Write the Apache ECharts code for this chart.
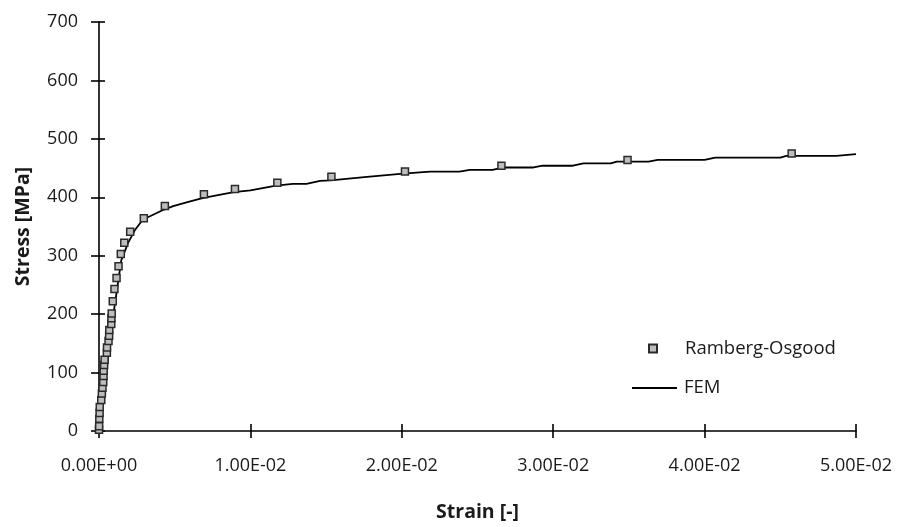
<!DOCTYPE html>
<html>
<head>
<meta charset="utf-8">
<script src="https://cdn.jsdelivr.net/npm/echarts@6/dist/echarts.min.js"></script>
<style>
  html, body { margin: 0; padding: 0; background: #fff; }
  #chart { width: 900px; height: 527px; }
</style>
</head>
<body>
<div id="chart"></div>
<script>
// Ramberg-Osgood curve: strain [-], stress [MPa]
const roStrain = [0.00000, 0.00001, 0.00002, 0.00004, 0.00005, 0.00015, 0.00019, 0.00023, 0.00028, 0.00030,
                  0.00031, 0.00034, 0.00037, 0.00052, 0.00053, 0.00063, 0.00067, 0.00068, 0.00081, 0.00082,
                  0.00084, 0.00091, 0.00102, 0.00116, 0.00129, 0.00144, 0.00167, 0.00206, 0.00296, 0.00435,
                  0.00693, 0.00898, 0.01178, 0.01535, 0.02021, 0.02658, 0.03491, 0.04575];
const roStress = [2, 8, 21, 31, 41, 53, 64, 74, 84, 94,
                  103, 113, 122, 134, 143, 154, 163, 173, 183, 193,
                  201, 222, 243, 262, 282, 303, 322, 341, 364, 385,
                  405, 414, 425, 435, 444, 454, 464, 475];

// FEM result: strain [-], stress [MPa]
const femStrain = [0, 0.0005, 0.00099, 0.00147, 0.00192, 0.0024, 0.0029, 0.0034, 0.0043, 0.0049,
                   0.0059, 0.0069, 0.0089, 0.0100, 0.0117, 0.0128, 0.0137, 0.0146, 0.0153, 0.0177,
                   0.0199, 0.0214, 0.0219, 0.0238, 0.0245, 0.0260, 0.0267, 0.0287, 0.0293, 0.0313,
                   0.0320, 0.0338, 0.0342, 0.0363, 0.0369, 0.0400, 0.0407, 0.0450, 0.0454, 0.0487,
                   0.0500];
const femStress = [0, 105, 207, 292, 322, 345, 362, 368, 379, 385,
                   392, 399, 409, 412, 420, 423, 423, 428, 429, 435,
                   440, 443, 444, 444, 447, 447, 451, 451, 454, 454,
                   458, 458, 461, 461, 464, 464, 468, 468, 471, 471,
                   474];

const xTickLabels = ['0.00E+00', '1.00E-02', '2.00E-02', '3.00E-02', '4.00E-02', '5.00E-02'];
const yTickLabels = ['0', '100', '200', '300', '400', '500', '600', '700'];

const FONT = 'Open Sans';
const TXT = '#1a1a1a';

const roData = roStrain.map((e, i) => [e, roStress[i]]);
const femData = femStrain.map((e, i) => [e, femStress[i]]);

const axisLine = { show: true, lineStyle: { color: '#000', width: 1.6 } };
const tickStyle = { color: '#000', width: 1.6 };

const chart = echarts.init(document.getElementById('chart'), null, { renderer: 'canvas' });
chart.setOption({
  animation: false,
  backgroundColor: '#fff',
  textStyle: { fontFamily: FONT },
  grid: { left: 99, right: 44, top: 22, bottom: 96, containLabel: false },
  xAxis: [{
    type: 'value', min: 0, max: 0.05, interval: 0.01, position: 'bottom',
    axisLine: axisLine,
    axisTick: { show: true, inside: false, length: 7, lineStyle: tickStyle },
    axisLabel: { margin: 26, fontSize: 18, color: TXT, fontFamily: FONT,
                 formatter: v => xTickLabels[Math.round(v / 0.01)] },
    splitLine: { show: false },
    name: 'Strain [-]', nameLocation: 'middle', nameGap: 71,
    nameTextStyle: { fontSize: 19.5, fontWeight: 'bold', color: TXT, fontFamily: FONT }
  }, {
    // inner half of the crossing tick marks
    type: 'value', min: 0, max: 0.05, interval: 0.01, position: 'bottom',
    axisLine: { show: false },
    axisTick: { show: true, inside: true, length: 7, lineStyle: tickStyle },
    axisLabel: { show: false }, splitLine: { show: false }
  }],
  yAxis: [{
    type: 'value', min: 0, max: 700, interval: 100, position: 'left',
    axisLine: axisLine,
    axisTick: { show: true, inside: false, length: 8, lineStyle: tickStyle },
    axisLabel: { margin: 21, fontSize: 18, color: TXT, fontFamily: FONT,
                 formatter: v => yTickLabels[Math.round(v / 100)] },
    splitLine: { show: false },
    name: 'Stress [MPa]', nameLocation: 'middle', nameGap: 66,
    nameTextStyle: { fontSize: 19.5, fontWeight: 'bold', color: TXT, fontFamily: FONT }
  }, {
    type: 'value', min: 0, max: 700, interval: 100, position: 'left',
    axisLine: { show: false },
    axisTick: { show: true, inside: true, length: 6, lineStyle: tickStyle },
    axisLabel: { show: false }, splitLine: { show: false }
  }],
  legend: [{
    data: ['Ramberg-Osgood'], left: 648, top: 339, orient: 'vertical', padding: 0,
    itemWidth: 8, itemHeight: 8,
    textStyle: { fontSize: 18.5, color: TXT, fontFamily: FONT, padding: [0, 0, 0, 23] }
  }, {
    data: [{ name: 'FEM', icon: 'rect' }], left: 632, top: 378.5, orient: 'vertical', padding: 0,
    itemWidth: 45, itemHeight: 2,
    itemStyle: { color: '#000' },
    textStyle: { fontSize: 18.5, color: TXT, fontFamily: FONT, padding: [0, 0, 0, 2] }
  }],
  series: [{
    name: 'FEM', type: 'line', data: femData, symbol: 'none', smooth: false,
    lineStyle: { color: '#000', width: 1.8 }, itemStyle: { color: '#000' }, z: 2
  }, {
    name: 'Ramberg-Osgood', type: 'scatter', data: roData, symbol: 'rect', symbolSize: 7,
    itemStyle: { color: '#bdbdbd', borderColor: '#2a2a2a', borderWidth: 1.5, opacity: 1 }, z: 3
  }]
});
</script>
</body>
</html>
